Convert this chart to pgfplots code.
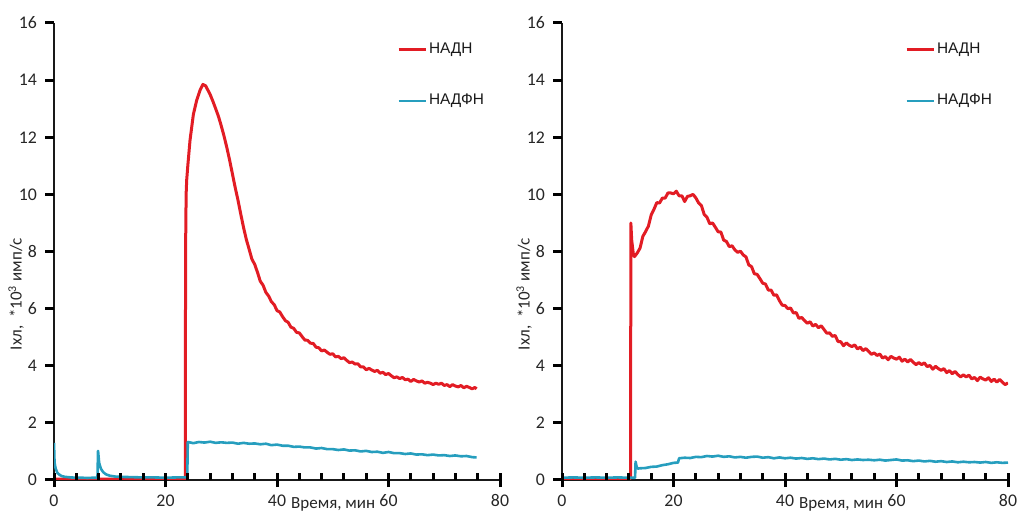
\documentclass[border=0pt]{standalone}
\usepackage{fontspec}
\setmainfont{Carlito}
\newfontfamily\legfont{Liberation Sans}
\usepackage{pgfplots}
\pgfplotsset{compat=1.18}
\definecolor{nadh}{RGB}{226,28,36}
\definecolor{nadph}{RGB}{38,158,190}
\tikzset{tk/.style={line width=1.5pt, color=black}}
\newcommand{\drawticks}{%
  \pgfplotsinvokeforeach{0,2,4,6,8,10,12,14,16}{\draw[tk] (axis cs:0,##1) -- ++(-4.5pt,0pt);}%
  \pgfplotsinvokeforeach{0,20,40,60,80}{\draw[tk] (axis cs:##1,0) ++(0pt,-3.5pt) -- ++(0pt,7pt);}%
  \pgfplotsinvokeforeach{4,8,12,16,24,28,32,36,44,48,52,56,64,68,72,76}{\draw[tk] (axis cs:##1,0) -- ++(0pt,3.5pt);}%
}
\pgfplotsset{
  myaxis/.style={
    scale only axis, width=223pt, height=228.5pt,
    xmin=0, xmax=80, ymin=0, ymax=16,
    axis x line*=bottom, axis y line*=left,
    axis line style={line width=0.9pt, color=black!90, -},
    xtick={0,20,...,80}, ytick={0,2,...,16},
    tick align=outside,
    major tick length=0pt, minor tick length=0pt,
    /pgf/number format/assume math mode=true,
    ticklabel style={font=\fontsize{8.9}{10}\selectfont, text=black!85},
    yticklabel style={xshift=-5pt},
    xticklabel style={anchor=base, yshift=-13pt},
    ylabel={Iхл,\ \ *10\textsuperscript{3} имп/с},
    ylabel style={at={(axis description cs:-0.085,0.407)}, anchor=center, font=\fontsize{8.5}{10}\selectfont, text=black!85},
    xlabel={Время, мин},
    xlabel style={at={(axis description cs:0.626,-0.0613)}, anchor=base, font=\fontsize{8.5}{10}\selectfont, text=black!85},
    legend cell align=left,
    legend image code/.code={\draw[#1, line width=1.4pt] (0pt,0pt) -- (13.5pt,0pt);},
    legend style={at={(axis cs:61.5,15.4)}, anchor=north west, draw=none, fill=none,
      font=\legfont\fontsize{7.7}{9}\selectfont, row sep=17pt, inner sep=0pt,
      nodes={inner sep=1pt, text=black!90}},
    after end axis/.code={\drawticks},
  },
  nadhline/.style={color=nadh, line width=1.5pt, line join=round},
  nadphline/.style={color=nadph, line width=1.3pt, line join=round},
}
\begin{document}
\begin{tikzpicture}
\begin{axis}[myaxis, at={(0pt,0pt)}, anchor=south west]
\addplot[nadhline] coordinates {
(0,0.03) (23.55,0.03) (23.6,8.0) (23.7,10.0) (23.8,10.5) (24.0,11.0) (24.4,11.9) (25.0,12.8) (25.6,13.3) (26.2,13.65) (26.7,13.85) (27.2,13.8) (27.6,13.65)
(28.0,13.5) (28.5,13.26) (29.0,13.0) (29.5,12.73) (30.0,12.4) (30.5,12.04) (31.0,11.64) (31.5,11.2) (32.0,10.72) (32.5,10.24)
(33.0,9.8) (33.5,9.31) (34.0,8.84) (34.5,8.42)
(35.0,8.08) (35.5,7.73) (36.0,7.55) (36.5,7.27) (37.0,6.96) (37.5,6.82) (38.0,6.57) (38.5,6.44) (39.0,6.24) (39.5,6.14)
(40.0,5.93) (40.5,5.88) (41.0,5.72) (41.5,5.58) (42.0,5.52) (42.5,5.35) (43.0,5.31) (43.5,5.17) (44.0,5.15) (44.5,5.02)
(45.0,4.90) (45.5,4.89) (46.0,4.79) (46.5,4.78) (47.0,4.65) (47.5,4.63) (48.0,4.52) (48.5,4.55) (49.0,4.47) (49.5,4.40)
(50.0,4.42) (50.5,4.31) (51.0,4.33) (51.5,4.25) (52.0,4.28) (52.5,4.19) (53.0,4.11) (53.5,4.13) (54.0,4.06) (54.5,4.07)
(55.0,3.96) (55.5,3.96) (56.0,3.86) (56.5,3.91) (57.0,3.85) (57.5,3.80) (58.0,3.84) (58.5,3.74) (59.0,3.77) (59.5,3.69)
(60.0,3.73) (60.5,3.65) (61.0,3.58) (61.5,3.61) (62.0,3.55) (62.5,3.59) (63.0,3.51) (63.5,3.53) (64.0,3.45) (64.5,3.52)
(65.0,3.47) (65.5,3.43) (66.0,3.47) (66.5,3.39) (67.0,3.42) (67.5,3.39) (68.0,3.34) (68.5,3.39) (69.0,3.35) (69.5,3.39)
(70.0,3.31) (70.5,3.34) (71.0,3.27) (71.5,3.34) (72.0,3.29) (72.5,3.26) (73.0,3.31) (73.5,3.23) (74.0,3.28) (74.5,3.24)
(75.0,3.19) (75.5,3.24) (75.8,3.19)
};
\addlegendentry{НАДН}
\addplot[nadphline] coordinates {
(0,1.3) (0.1,0.6) (0.3,0.4) (0.6,0.25) (1,0.18) (1.5,0.13) (2,0.11) (3,0.09) (4,0.08) (5,0.08) (6,0.07) (7,0.08) (7.8,0.08)
(7.9,1.02) (8.1,0.6) (8.4,0.4) (8.8,0.28) (9.3,0.2) (10,0.15) (11,0.12) (12,0.11) (14,0.1) (16,0.09) (18,0.09) (20,0.08) (22,0.09) (23.9,0.09)
(24.0,1.33) (25,1.29) (26,1.33) (27,1.31) (28,1.34) (29,1.30) (30,1.32) (31,1.30) (32,1.31) (33,1.27) (34,1.30) (35,1.27)
(36,1.28) (37,1.25) (38,1.27) (39,1.22) (40,1.24) (41,1.20) (42,1.20) (43,1.16) (44,1.17) (45,1.14) (46,1.14) (47,1.10)
(48,1.12) (49,1.08) (50,1.08) (51,1.05) (52,1.07) (53,1.03) (54,1.04) (55,1.00) (56,1.02) (57,0.98) (58,0.99) (59,0.95)
(60,0.98) (61,0.94) (62,0.94) (63,0.91) (64,0.93) (65,0.89) (66,0.90) (67,0.87) (68,0.89) (69,0.86) (70,0.87) (71,0.84)
(72,0.86) (73,0.83) (74,0.84) (75,0.80) (75.8,0.79)
};
\addlegendentry{НАДФН}
\end{axis}
\begin{axis}[myaxis, at={(254pt,0pt)}, anchor=south west]
\addplot[nadhline] coordinates {
(0,0.05) (12.3,0.05) (12.35,9.0) (12.5,8.4) (12.8,7.9) (13.0,7.82)
(13.5,7.95) (14.0,8.12) (14.5,8.53) (15.0,8.70) (15.5,8.89) (16.0,9.28) (16.5,9.48) (17.0,9.71) (17.5,9.70) (18.0,9.87)
(18.5,9.87) (19.0,10.05) (19.5,10.05) (20.0,10.02) (20.5,10.11) (21.0,9.95) (21.5,9.95) (22.0,9.75) (22.5,9.93) (23.0,9.95)
(23.5,10.0) (24.0,9.88) (24.5,9.70) (25.0,9.61) (25.5,9.30) (26.0,9.20) (26.5,8.97) (27.0,9.00) (27.5,8.85) (28.0,8.69)
(28.5,8.68) (29.0,8.40) (29.5,8.35) (30.0,8.17) (30.5,8.20) (31.0,8.06) (31.5,7.97) (32.0,8.01) (32.5,7.88) (33.0,7.81)
(33.5,7.53) (34.0,7.47) (34.5,7.22) (35.0,7.20) (35.5,7.05) (36.0,6.89) (36.5,6.86) (37.0,6.65) (37.5,6.65) (38.0,6.47)
(38.5,6.48) (39.0,6.28) (39.5,6.12) (40.0,6.11) (40.5,6.00) (41.0,6.02) (41.5,5.85) (42.0,5.86) (42.5,5.66) (43.0,5.69)
(43.5,5.58) (44.0,5.49) (44.5,5.54) (45.0,5.39) (45.5,5.45) (46.0,5.33) (46.5,5.40) (47.0,5.27) (47.5,5.14) (48.0,5.15)
(48.5,5.03) (49.0,5.06) (49.5,4.85) (50.0,4.84) (50.5,4.70) (51.0,4.80) (51.5,4.72) (52.0,4.67) (52.5,4.73) (53.0,4.59)
(53.5,4.65) (54.0,4.53) (54.5,4.60) (55.0,4.50) (55.5,4.40) (56.0,4.45) (56.5,4.36) (57.0,4.41) (57.5,4.27) (58.0,4.32)
(58.5,4.21) (59.0,4.33) (59.5,4.27) (60.0,4.23) (60.5,4.30) (61.0,4.16) (61.5,4.23) (62.0,4.13) (62.5,4.22) (63.0,4.12)
(63.5,4.04) (64.0,4.11) (64.5,4.04) (65.0,4.10) (65.5,3.97) (66.0,4.01) (66.5,3.88) (67.0,3.98) (67.5,3.90) (68.0,3.84)
(68.5,3.90) (69.0,3.76) (69.5,3.83) (70.0,3.72) (70.5,3.80) (71.0,3.69) (71.5,3.61) (72.0,3.68) (72.5,3.61) (73.0,3.67)
(73.5,3.54) (74.0,3.59) (74.5,3.48) (75.0,3.60) (75.5,3.54) (76.0,3.50) (76.5,3.58) (77.0,3.45) (77.5,3.53) (78.0,3.43)
(78.5,3.52) (79.0,3.42) (79.5,3.34) (80.0,3.40)
};
\addlegendentry{НАДН}
\addplot[nadphline] coordinates {
(0,0.08) (2,0.09) (4,0.08) (6,0.09) (8,0.08) (10,0.09) (12,0.08) (13.1,0.08) (13.2,0.64) (13.4,0.45) (13.6,0.40)
(14,0.41) (15,0.42) (16,0.46) (17,0.47) (18,0.52) (19,0.55) (20,0.60) (20.8,0.61) (21.0,0.76) (22,0.78) (23,0.77)
(24,0.81) (25,0.80) (26,0.84) (27,0.82) (28,0.85) (29,0.81) (30,0.83) (31,0.79) (32,0.81) (33,0.78) (34,0.81) (35,0.82)
(36,0.78) (37,0.80) (38,0.76) (39,0.79) (40,0.76) (41,0.78) (42,0.75) (43,0.77) (44,0.74) (45,0.76) (46,0.73) (47,0.75)
(48,0.72) (49,0.74) (50,0.71) (51,0.73) (52,0.70) (53,0.72) (54,0.70) (55,0.71) (56,0.69) (57,0.71) (58,0.68) (59,0.70)
(60,0.72) (61,0.68) (62,0.69) (63,0.66) (64,0.68) (65,0.65) (66,0.67) (67,0.64) (68,0.66) (69,0.63) (70,0.65) (71,0.62)
(72,0.64) (73,0.62) (74,0.63) (75,0.61) (76,0.63) (77,0.60) (78,0.62) (79,0.60) (80,0.61)
};
\addlegendentry{НАДФН}
\end{axis}
\pgfresetboundingbox
\path[use as bounding box] (-27pt,-16.5pt) rectangle (483.5pt,240pt);
\end{tikzpicture}
\end{document}
